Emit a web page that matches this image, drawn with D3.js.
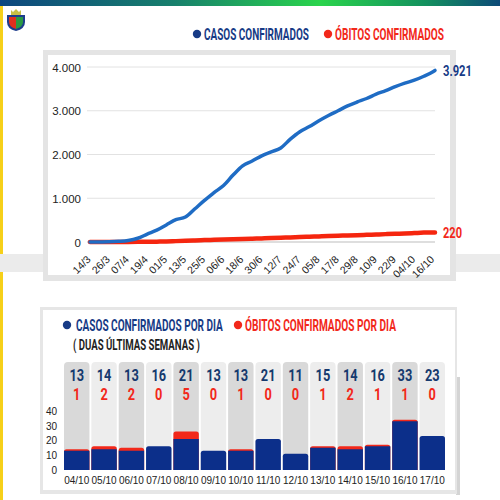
<!DOCTYPE html>
<html><head><meta charset="utf-8">
<script src="https://cdn.jsdelivr.net/npm/d3@7"></script>
<style>body{margin:0;background:#fff}svg{display:block}</style>
</head><body>
<svg id="c" width="500" height="500"></svg>
<script>
// ---------- DATA ----------
const lineDates = ["2020-03-14","2020-03-20","2020-03-26","2020-04-01","2020-04-07","2020-04-13","2020-04-19","2020-04-25","2020-05-01","2020-05-07","2020-05-13","2020-05-19","2020-05-25","2020-05-31","2020-06-06","2020-06-12","2020-06-18","2020-06-24","2020-06-30","2020-07-06","2020-07-12","2020-07-18","2020-07-24","2020-07-30","2020-08-05","2020-08-11","2020-08-17","2020-08-23","2020-08-29","2020-09-04","2020-09-10","2020-09-16","2020-09-22","2020-09-28","2020-10-04","2020-10-10","2020-10-16","2020-10-17"];
const casesCum = [0,2,5,15,35,85,180,270,390,510,570,760,950,1130,1290,1530,1740,1850,1970,2060,2150,2350,2520,2640,2770,2890,3000,3110,3200,3280,3380,3460,3550,3630,3698,3788,3898,3921];
const deathsCum = [0,0,0,1,2,3,5,8,13,20,27,35,43,50,56,62,68,75,82,90,97,105,112,120,127,135,142,150,157,165,172,180,188,195,205,215,220,220];
const tickLabels = ["14/3","26/3","07/4","19/4","01/5","13/5","25/5","06/6","18/6","30/6","12/7","24/7","05/8","17/8","29/8","10/9","22/9","04/10","16/10"];
const yTicksTop = [0,1000,2000,3000,4000];

const days = ["04/10","05/10","06/10","07/10","08/10","09/10","10/10","11/10","12/10","13/10","14/10","15/10","16/10","17/10"];
const casesDay = [13,14,13,16,21,13,13,21,11,15,14,16,33,23];
const deathsDay = [1,2,2,0,5,0,1,0,0,1,2,1,1,0];
const yTicksBottom = [0,10,20,30,40];

// ---------- SETUP ----------
const svg = d3.select("#c");
const BLUE_DARK = "#173b86", RED = "#f2281a", LINE_BLUE = "#1f6cc4", NAVY = "#0c2f8a";
const fmt = d3.format(",");
const ptbr = v => fmt(v).replace(/,/g, ".");
const cond = "Roboto, 'Noto Sans', sans-serif";
const sans = "'Liberation Sans', Arial, sans-serif";

// condensed text: drawn then horizontally scaled to a target width
function condText(g, x, y, str, size, color, width) {
  const t = g.append("text").attr("font-family",cond).attr("font-weight",700)
    .attr("font-size",size).attr("fill",color).text(str);
  const w = t.node().getComputedTextLength();
  t.attr("transform",`translate(${x},${y}) scale(${width / w},1)`);
  return t;
}

// top gradient bar
const defs = svg.append("defs");
const gr = defs.append("linearGradient").attr("id","topg");
[["0%","#0d477f"],["35%","#17806c"],["64%","#2ad44c"],["85%","#13915e"],["100%","#0c4a78"]]
  .forEach(([o,c]) => gr.append("stop").attr("offset",o).attr("stop-color",c));
svg.append("rect").attr("x",0).attr("y",0).attr("width",500).attr("height",6).attr("fill","url(#topg)");
svg.append("rect").attr("x",0).attr("y",6).attr("width",3).attr("height",494).attr("fill","#f6d019");

// coat of arms (decorative)
const ca = svg.append("g");
ca.append("path").attr("d","M11,15 L11,10 L13,12 L16,9 L19,12 L21,10 L21,15 Z").attr("fill","#c8c046");
ca.append("path").attr("d","M7,15 L25,15 L25,22 Q25,29 16,31 Q7,29 7,22 Z").attr("fill","#1d3d8c");
ca.append("path").attr("d","M9,17 L16,17 L16,29 Q9,27 9,22 Z").attr("fill","#e0301f");
ca.append("path").attr("d","M16,17 L23,17 L23,22 Q23,27 16,29 Z").attr("fill","#2a9a44");

// gray background band
svg.append("rect").attr("x",0).attr("y",254).attr("width",500).attr("height",18).attr("fill","#ebebeb");

// ---------- TOP LEGEND ----------
function legendItem(g, cx, cy, label, color, x0, w, size) {
  g.append("circle").attr("cx",cx).attr("cy",cy).attr("r",4.2).attr("fill",color);
  condText(g, x0, cy+6, label, size, color, w);
}
const lg = svg.append("g");
legendItem(lg, 197, 34, "CASOS CONFIRMADOS", BLUE_DARK, 204, 105, 17);
legendItem(lg, 328, 34, "ÓBITOS CONFIRMADOS", RED, 335, 109, 17);

// ---------- TOP PANEL ----------
svg.append("rect").attr("x",43).attr("y",50).attr("width",413).attr("height",231).attr("fill","#e4e4e4");
svg.append("rect").attr("x",48).attr("y",55).attr("width",402).attr("height",220).attr("fill","#ffffff");

const parse = d3.timeParse("%Y-%m-%d");
const xT = d3.scaleTime().domain([parse(lineDates[0]), parse(lineDates[lineDates.length-1])]).range([90,435]);
const yT = d3.scaleLinear().domain([0,4000]).range([242,67]);

const topG = svg.append("g");
// grid
topG.selectAll("line.g").data(yTicksTop.filter(d=>d>0)).join("line")
  .attr("x1",87).attr("x2",435).attr("y1",d=>yT(d)).attr("y2",d=>yT(d))
  .attr("stroke","#e2e2e2").attr("stroke-width",1);
topG.append("line").attr("x1",87).attr("x2",435).attr("y1",yT(0)).attr("y2",yT(0)).attr("stroke","#bdbdbd");
// y labels
const yAxisT = d3.axisLeft(yT).tickValues(yTicksTop).tickFormat(ptbr).tickSize(0).tickPadding(0);
const yag = topG.append("g").attr("transform","translate(81,0)").call(yAxisT);
yag.select(".domain").remove();
yag.selectAll("text").attr("font-family",sans).attr("font-size",11.5).attr("fill","#222").attr("dy","0.35em");

// x labels
const tickDates = [];
{ const s = parse(lineDates[0]); tickLabels.forEach((_,i)=>tickDates.push(d3.timeDay.offset(s, i*12))); }
const xAxisT = d3.axisBottom(xT).tickValues(tickDates).tickFormat((d,i)=>tickLabels[i]).tickSize(0);
const xag = topG.append("g").attr("transform","translate(0,245)").call(xAxisT);
xag.select(".domain").remove();
xag.selectAll("text").attr("font-family",sans).attr("font-size",10.5).attr("fill","#222")
  .attr("text-anchor","end").attr("dy",0).attr("y",0)
  .attr("transform","translate(1,15) rotate(-45)");

// lines
const ptsC = lineDates.map((d,i)=>({x:parse(d), v:casesCum[i]}));
const ptsD = lineDates.map((d,i)=>({x:parse(d), v:deathsCum[i]}));
const lineGen = d3.line().x(d=>xT(d.x)).y(d=>yT(d.v)).curve(d3.curveMonotoneX);
topG.append("path").attr("d",lineGen(ptsD)).attr("fill","none").attr("stroke","#f5260f").attr("stroke-width",4.5).attr("stroke-linecap","round");
topG.append("path").attr("d",lineGen(ptsC)).attr("fill","none").attr("stroke",LINE_BLUE).attr("stroke-width",3.5).attr("stroke-linecap","round");

// end labels
const lastC = ptsC[ptsC.length-1], lastD = ptsD[ptsD.length-1];
condText(topG, xT(lastC.x)+8, yT(lastC.v)+5.5, ptbr(lastC.v), 15.5, BLUE_DARK, 29);
condText(topG, xT(lastD.x)+8, yT(lastD.v)+5.5, ptbr(lastD.v), 15.5, RED, 19);

// ---------- BOTTOM PANEL ----------
svg.append("rect").attr("x",456).attr("y",377).attr("width",4).attr("height",118).attr("fill","#d4d4d4");
svg.append("rect").attr("x",40).attr("y",307).attr("width",417).attr("height",187).attr("fill","#e6e6e6");
svg.append("rect").attr("x",43).attr("y",310).attr("width",412).attr("height",180).attr("fill","#ffffff");

const bl = svg.append("g");
legendItem(bl, 67, 325, "CASOS CONFIRMADOS POR DIA", BLUE_DARK, 76, 147, 16.5);
legendItem(bl, 238, 325, "ÓBITOS CONFIRMADOS POR DIA", RED, 245, 151, 16.5);
condText(bl, 73, 350, "( DUAS ÚLTIMAS SEMANAS )", 14, "#1e1e1e", 127);

const xB = d3.scaleBand().domain(days).range([64,445]).paddingInner(0.07);
const yB = d3.scaleLinear().domain([0,40]).range([470,410.8]);
const bot = svg.append("g");

// background cells
const cellTop = 362;
function roundTop(x, y, w, h, r) {
  r = Math.min(r, h, w/2);
  return `M${x},${y+h} L${x},${y+r} Q${x},${y} ${x+r},${y} L${x+w-r},${y} Q${x+w},${y} ${x+w},${y+r} L${x+w},${y+h} Z`;
}
bot.selectAll("path.cell").data(days).join("path").attr("class","cell")
  .attr("d",d=>roundTop(xB(d), cellTop, xB.bandwidth(), yB(0)-cellTop, 4))
  .attr("fill",(d,i)=> i%2===0 ? "#d9d9d9" : "#ededed");

// stacked bars: deaths on top of cases
bot.selectAll("path.dbar").data(days).join("path").attr("class","dbar")
  .attr("d",(d,i)=> deathsDay[i] > 0 ? roundTop(xB(d), yB(casesDay[i]+deathsDay[i]), xB.bandwidth(), yB(0)-yB(casesDay[i]+deathsDay[i]), 2.5) : "")
  .attr("fill",RED);
bot.selectAll("path.cbar").data(days).join("path").attr("class","cbar")
  .attr("d",(d,i)=> roundTop(xB(d), yB(casesDay[i]), xB.bandwidth(), yB(0)-yB(casesDay[i]), deathsDay[i]>0?0:2.5))
  .attr("fill",NAVY);

// numbers
function condNum(g, x, y, str, color) {
  g.append("text").attr("transform",`translate(${x},${y}) scale(0.8,1)`).attr("text-anchor","middle")
    .attr("font-family",cond).attr("font-weight",700).attr("font-size",16).attr("fill",color).text(str);
}
days.forEach((d,i)=>{
  const cx = xB(d) + xB.bandwidth()/2;
  condNum(bot, cx, 381, casesDay[i], "#163a6e");
  condNum(bot, cx, 400, deathsDay[i], RED);
});

// y axis
const yAxisB = d3.axisLeft(yB).tickValues(yTicksBottom).tickSize(0).tickPadding(0);
const ybg = bot.append("g").attr("transform","translate(57,0)").call(yAxisB);
ybg.select(".domain").remove();
ybg.selectAll("text").attr("font-family",sans).attr("font-size",10).attr("fill","#222").attr("dy","0.35em");

// x axis
const xAxisB = d3.axisBottom(xB).tickSize(0).tickPadding(0);
const xbg = bot.append("g").attr("transform","translate(0,484)").call(xAxisB);
xbg.select(".domain").remove();
xbg.selectAll("text").attr("font-family",sans).attr("font-size",10).attr("fill","#222").attr("dy",0);
</script>
</body></html>
